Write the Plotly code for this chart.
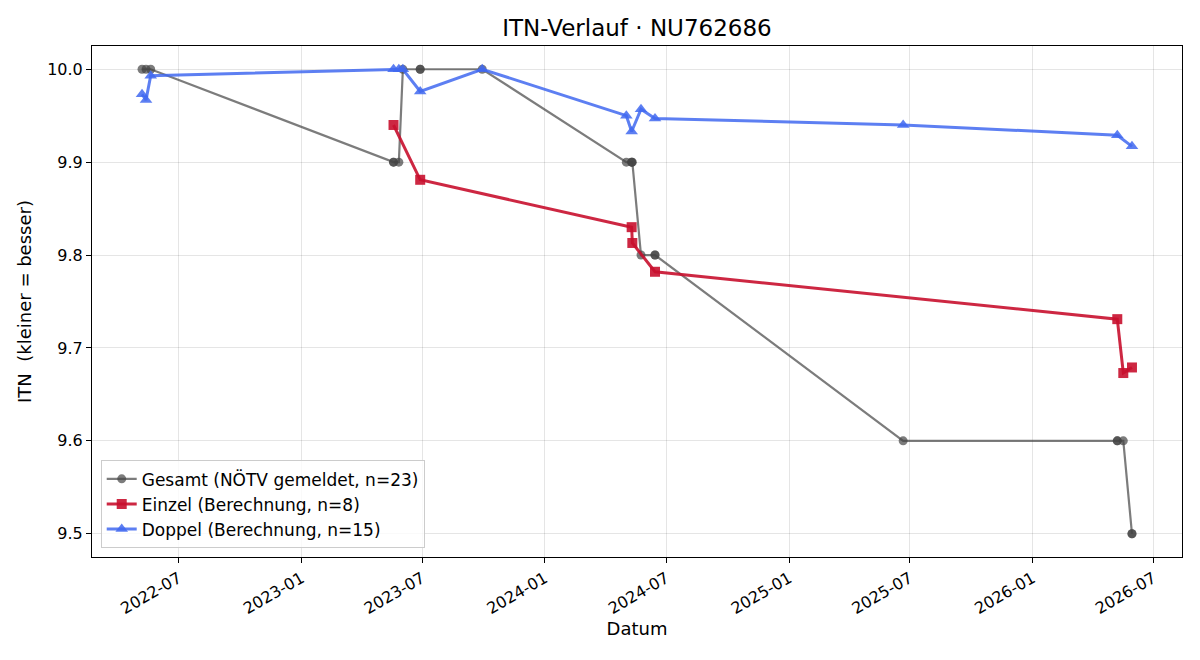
import plotly.graph_objects as go

# Gesamt (NÖTV gemeldet)
gesamt_dates = ["2022-05-07", "2022-05-13", "2022-05-20", "2023-05-19", "2023-05-19",
                "2023-05-27", "2023-06-02", "2023-06-28", "2023-06-28", "2023-09-29",
                "2024-05-02", "2024-05-10", "2024-05-10", "2024-05-11", "2024-05-24",
                "2024-06-14", "2024-06-14", "2025-06-21", "2026-05-08", "2026-05-08",
                "2026-05-17", "2026-05-30", "2026-05-30"]
gesamt_itn = [10.0, 10.0, 10.0, 9.9, 9.9,
              9.9, 10.0, 10.0, 10.0, 10.0,
              9.9, 9.9, 9.9, 9.9, 9.8,
              9.8, 9.8, 9.6, 9.6, 9.6,
              9.6, 9.5, 9.5]

# Einzel (Berechnung)
einzel_dates = ["2023-05-19", "2023-06-28", "2024-05-10", "2024-05-11", "2024-06-14",
                "2026-05-08", "2026-05-17", "2026-05-30"]
einzel_itn = [9.940, 9.881, 9.830, 9.813, 9.782, 9.731, 9.673, 9.679]

# Doppel (Berechnung)
doppel_dates = ["2022-05-07", "2022-05-13", "2022-05-20", "2023-05-19", "2023-05-27",
                "2023-06-02", "2023-06-28", "2023-09-29", "2024-05-02", "2024-05-10",
                "2024-05-24", "2024-06-14", "2025-06-21", "2026-05-08", "2026-05-30"]
doppel_itn = [9.973, 9.967, 9.993, 10.0, 10.0,
              10.0, 9.976, 10.0, 9.950, 9.933,
              9.957, 9.947, 9.940, 9.929, 9.917]

tick_vals = ["2022-07-01", "2023-01-01", "2023-07-01", "2024-01-01", "2024-07-01",
             "2025-01-01", "2025-07-01", "2026-01-01", "2026-07-01"]
tick_text = ["2022-07", "2023-01", "2023-07", "2024-01", "2024-07",
             "2025-01", "2025-07", "2026-01", "2026-07"]

fig = go.Figure()
fig.add_trace(go.Scatter(
    x=gesamt_dates, y=gesamt_itn, mode="lines+markers",
    name="Gesamt (NÖTV gemeldet, n=23)",
    line=dict(color="rgba(68,68,68,0.7)", width=2.2),
    marker=dict(symbol="circle", size=9, color="rgba(68,68,68,0.7)"),
))
fig.add_trace(go.Scatter(
    x=einzel_dates, y=einzel_itn, mode="lines+markers",
    name="Einzel (Berechnung, n=8)",
    line=dict(color="rgba(200,16,46,0.9)", width=3),
    marker=dict(symbol="square", size=10, color="rgba(200,16,46,0.9)"),
))
fig.add_trace(go.Scatter(
    x=doppel_dates, y=doppel_itn, mode="lines+markers",
    name="Doppel (Berechnung, n=15)",
    line=dict(color="rgba(65,105,240,0.85)", width=3),
    marker=dict(symbol="triangle-up", size=11, color="rgba(65,105,240,0.85)"),
))

fig.update_layout(
    width=1200, height=660,
    margin=dict(l=92, r=18, t=46, b=103),
    paper_bgcolor="white", plot_bgcolor="white",
    font=dict(family="DejaVu Sans", size=16, color="black"),
    title=dict(text="ITN-Verlauf · NU762686", x=0.5, xref="paper", xanchor="center",
               y=1 - 28 / 660, yanchor="middle", font=dict(size=23)),
    showlegend=True,
    legend=dict(x=0.008, y=0.017, xanchor="left", yanchor="bottom",
                bordercolor="#cccccc", borderwidth=1, bgcolor="rgba(255,255,255,0.8)",
                font=dict(size=17), tracegroupgap=0),
)
fig.update_xaxes(
    type="date", range=["2022-02-21", "2026-08-13"],
    tickvals=tick_vals, ticktext=tick_text, tickangle=-30,
    ticks="outside", ticklen=5, tickcolor="black", tickfont=dict(size=16),
    showgrid=True, gridcolor="rgba(0,0,0,0.1)", gridwidth=1,
    showline=True, linecolor="black", linewidth=1, mirror=True,
    zeroline=False,
    title=dict(text="Datum", font=dict(size=18), standoff=4),
)
fig.update_yaxes(
    range=[9.475, 10.025], tickvals=[9.5, 9.6, 9.7, 9.8, 9.9, 10.0],
    ticktext=["9.5", "9.6", "9.7", "9.8", "9.9", "10.0"],
    ticks="outside", ticklen=5, tickcolor="black", tickfont=dict(size=16),
    showgrid=True, gridcolor="rgba(0,0,0,0.1)", gridwidth=1,
    showline=True, linecolor="black", linewidth=1, mirror=True,
    zeroline=False,
    title=dict(text="ITN  (kleiner = besser)", font=dict(size=18), standoff=10),
)

fig.write_html("out.html")
